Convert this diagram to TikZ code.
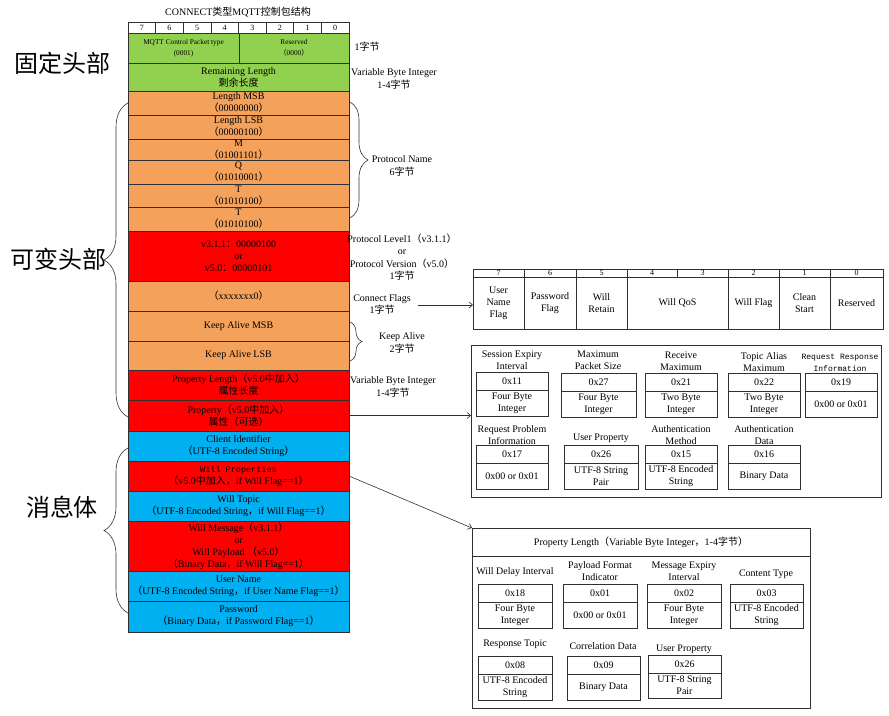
\documentclass[tikz,border=0pt]{standalone}
\usepackage{fontspec}
\setmainfont{Liberation Serif}
\newfontfamily\cjk{Noto Sans CJK SC}
\newfontfamily\monofam{Liberation Mono}
\usetikzlibrary{arrows.meta,decorations.pathreplacing}

% Chinese runs and full-width punctuation
\newcommand\zh[1]{{\cjk #1}}
\newcommand\lp{\zh{（}}
\newcommand\rp{\zh{）}}
\newcommand\cm{\zh{，}}
\newcommand\cl{\zh{：}}

\definecolor{hdrgreen}{HTML}{92D050}
\definecolor{varorange}{HTML}{F4A15B}
\definecolor{newred}{HTML}{FF0000}
\definecolor{payblue}{HTML}{00B0F0}
\definecolor{edge}{HTML}{303030}

% one full-width row of the packet column: name, top, bottom, colour, text
\newcommand\mrow[5]{\node[row, fill=#4, minimum height={#3-#2}] (#1) at (128,#2) {#5};}
% a plain cell: name, left, right, top, bottom, text
\newcommand\cellat[6]{\node[cell, minimum width={#3-#2}, minimum height={#5-#4}] (#1) at (#2,#4) {#6};}
% a property: name, left, right, top, middle, bottom, identifier, data type
\newcommand\pbox[8]{%
  \node[cell, minimum width={#3-#2}, minimum height={#5-#4}] (#1id) at (#2,#4) {#7};
  \node[cell, minimum width={#3-#2}, minimum height={#6-#5}] (#1ty) at (#2,#5) {#8};}

\begin{document}
\begin{tikzpicture}[x=1pt,y=-1pt,
  every node/.style={font=\fontsize{10}{12}\selectfont, inner sep=0pt, outer sep=0pt},
  row/.style={draw=edge, line width=0.7pt, anchor=north west, align=center, minimum width=221pt},
  cell/.style={draw=edge, line width=0.7pt, anchor=north west, align=center},
  lbl/.style={align=center},
  big/.style={font=\fontsize{24}{26}\selectfont\cjk},
  brc/.style={decorate, decoration={brace, amplitude=#1}, line width=0.6pt, draw=edge},
  link/.style={draw=edge, line width=0.6pt, -{Straight Barb[length=3.5pt,width=6pt]}},
]
\useasboundingbox (0,0) rectangle (889,715);

% ---------- title and bit numbers ----------
\node (title) at (238,12) {CONNECT\zh{类型}MQTT\zh{控制包结构}};
\foreach \b [count=\k from 0] in {7,6,5,4,3,2,1,0}
  \node[cell, minimum width=27.625pt, minimum height=11pt, font=\fontsize{8}{9}\selectfont]
    (bit\b) at ({128+\k*27.625},22) {\b};

% ---------- fixed header ----------
\node[cell, fill=hdrgreen, minimum width=111pt, minimum height=30pt, font=\fontsize{7.3}{11}\selectfont]
  (ptype) at (128,33) {MQTT Control Packet type\\(0001)};
\node[cell, fill=hdrgreen, minimum width=110pt, minimum height=30pt, font=\fontsize{7.3}{11}\selectfont]
  (rsvd) at (239,33) {Reserved\\\lp 0000\rp};
\mrow{remlen}{63}{91}{hdrgreen}{Remaining Length\\\zh{剩余长度}}

% ---------- variable header ----------
\mrow{lmsb}{91}{115}{varorange}{Length MSB\\\lp 00000000\rp}
\mrow{llsb}{115}{139}{varorange}{Length LSB\\\lp 00000100\rp}
\mrow{pnm}{139}{160}{varorange}{M\\\lp 01001101\rp}
\mrow{pnq}{160}{184}{varorange}{Q\\\lp 01010001\rp}
\mrow{pnt}{184}{207}{varorange}{T\\\lp 01010100\rp}
\mrow{pntt}{207}{231}{varorange}{T\\\lp 01010100\rp}
\mrow{plevel}{231}{281}{newred}{v3.1.1\cl 00000100\\or\\v5.0\cl 00000101}
\mrow{cflags}{281}{311}{varorange}{\lp xxxxxxx0\rp}
\mrow{kamsb}{311}{341}{varorange}{Keep Alive MSB}
\mrow{kalsb}{341}{370}{varorange}{Keep Alive LSB}
\mrow{proplen}{370}{400}{newred}{Property Length\lp v5.0\zh{中加入}\rp\\\zh{属性长度}}
\mrow{props}{400}{431}{newred}{Property\lp v5.0\zh{中加入}\rp\\\zh{属性}\lp\zh{可选}\rp}

% ---------- payload ----------
\mrow{clientid}{431}{461}{payblue}{Client Identifier\\\lp UTF-8 Encoded String\rp}
\mrow{willprops}{461}{491}{newred}{{\monofam\fontsize{8.5}{12}\selectfont Will Properties}\\\lp v5.0\zh{中加入}\cm if Will Flag==1\rp}
\mrow{willtopic}{491}{521}{payblue}{Will Topic\\\lp UTF-8 Encoded String\cm if Will Flag==1\rp}
\mrow{willmsg}{521}{571}{newred}{Will Message\lp v3.1.1\rp\\or\\Will Payload \lp v5.0\rp\\\lp Binary Data\cm if Will Flag==1\rp}
\mrow{username}{571}{601}{payblue}{User Name\\\lp UTF-8 Encoded String\cm if User Name Flag==1\rp}
\mrow{password}{601}{632}{payblue}{Password\\\lp Binary Data\cm if Password Flag==1\rp}

% ---------- section names ----------
\node[big] (fixname) at (62,63) {固定头部};
\node[big] (varname) at (58,259) {可变头部};
\node[big] (payname) at (62,507) {消息体};
\draw[brc=24pt] (128,417) -- (128,103);
\draw[brc=24pt] (128,613) -- (128,448);

% ---------- field sizes ----------
\node (sz1) at (367,47) {1\zh{字节}};
\node[lbl, font=\fontsize{10}{13.5}\selectfont] (szrem) at (394,79) {Variable Byte Integer\\1-4\zh{字节}};
\draw[brc=18pt] (350,102) -- (350,218);
\node[lbl, font=\fontsize{10}{13}\selectfont] (szname) at (402,166) {Protocol Name\\6\zh{字节}};
\node[lbl, font=\fontsize{10}{12.4}\selectfont] (szlevel) at (402,257) {Protocol Level1\lp v3.1.1\rp\\or\\Protocol Version\lp v5.0\rp\\1\zh{字节}};
\node[lbl] (szflags) at (382,304) {Connect Flags\\1\zh{字节}};
\draw[brc=12pt] (350,322) -- (350,361);
\node[lbl, font=\fontsize{10}{13}\selectfont] (szka) at (402,343) {Keep Alive\\2\zh{字节}};
\node[lbl, font=\fontsize{10}{13}\selectfont] (szprop) at (393,387) {Variable Byte Integer\\1-4\zh{字节}};

% ---------- connect flags byte ----------
\foreach \b/\xa/\xb in {7/473/524, 6/524/576, 5/576/627, 4/627/677, 3/677/728, 2/728/779, 1/779/830, 0/830/883}
  \node[cell, minimum width={\xb-\xa}, minimum height=8.5pt, font=\fontsize{8}{9}\selectfont]
    (fbit\b) at (\xa,269) {\b};
\cellat{funame}{473}{524}{277.5}{329}{User\\Name\\Flag}
\cellat{fpass}{524}{576}{277.5}{329}{Password\\Flag}
\cellat{fretain}{576}{627}{277.5}{329}{Will\\Retain}
\cellat{fqos}{627}{728}{277.5}{329}{Will QoS}
\cellat{fwill}{728}{779}{277.5}{329}{Will Flag}
\cellat{fclean}{779}{830}{277.5}{329}{Clean\\Start}
\cellat{frsvd}{830}{883}{277.5}{329}{Reserved}
\coordinate (cfout) at (418,305);
\draw[link] (cfout) -- (cfout -| funame.west);

% ---------- connect properties ----------
\node[draw=edge, line width=0.8pt, anchor=north west, minimum width=410pt, minimum height=152pt] (propset) at (471,345) {};
\pbox{sei}{476}{548}{372}{390}{416}{0x11}{Four Byte\\Integer}
\pbox{mps}{561}{636}{373}{391}{417}{0x27}{Four Byte\\Integer}
\pbox{rcv}{645}{717}{373}{391}{417}{0x21}{Two Byte\\Integer}
\pbox{tam}{728}{800}{373}{391}{417}{0x22}{Two Byte\\Integer}
\pbox{rri}{805}{877}{373}{391}{417}{0x19}{0x00 or 0x01}
\pbox{rpi}{476}{548}{445}{463}{489}{0x17}{0x00 or 0x01}
\pbox{cup}{564}{638}{445}{463}{489}{0x26}{UTF-8 String\\Pair}
\pbox{amt}{645}{717}{445}{463}{489}{0x15}{UTF-8 Encoded\\String}
\pbox{adt}{728}{800}{445}{463}{489}{0x16}{Binary Data}
\node[lbl] (seil) at (512,360.5) {Session Expiry\\Interval};
\node[lbl] (mpsl) at (598,360) {Maximum\\Packet Size};
\node[lbl] (rcvl) at (681,361.5) {Receive\\Maximum};
\node[lbl] (taml) at (764,362.5) {Topic Alias\\Maximum};
\node[lbl, font=\fontsize{8}{12}\monofam] (rril) at (840,362.5) {Request Response\\Information};
\node[lbl] (rpil) at (512,435) {Request Problem\\Information};
\node[lbl] (cupl) at (601,438) {User Property};
\node[lbl] (amtl) at (681,435) {Authentication\\Method};
\node[lbl] (adtl) at (764,435) {Authentication\\Data};
\draw[link] (props.east) -- (props.east -| propset.west);

% ---------- will properties ----------
\node[draw=edge, line width=0.8pt, anchor=north west, minimum width=338pt, minimum height=180pt] (willset) at (472,528) {};
\cellat{willhdr}{472}{810}{528}{556}{Property Length\lp Variable Byte Integer\cm 1-4\zh{字节}\rp}
\pbox{wdi}{478}{552}{584}{602}{628}{0x18}{Four Byte\\Integer}
\pbox{pfi}{563}{637}{584}{602}{628}{0x01}{0x00 or 0x01}
\pbox{mei}{647}{721}{584}{602}{628}{0x02}{Four Byte\\Integer}
\pbox{cty}{730}{803}{584}{602}{628}{0x03}{UTF-8 Encoded\\String}
\pbox{rtp}{478}{552}{656}{674}{700}{0x08}{UTF-8 Encoded\\String}
\pbox{cdt}{567}{640}{656}{674}{700}{0x09}{Binary Data}
\pbox{wup}{648}{721}{655}{673}{698}{0x26}{UTF-8 String\\Pair}
\node[lbl] (wdil) at (515,572) {Will Delay Interval};
\node[lbl] (pfil) at (600,571) {Payload Format\\Indicator};
\node[lbl] (meil) at (684,571.5) {Message Expiry\\Interval};
\node[lbl] (ctyl) at (766,574) {Content Type};
\node[lbl] (rtpl) at (515,644) {Response Topic};
\node[lbl] (cdtl) at (603,646) {Correlation Data};
\node[lbl] (wupl) at (684,649) {User Property};
\draw[link] (willprops.east) -- (willset.north west);
\end{tikzpicture}
\end{document}
